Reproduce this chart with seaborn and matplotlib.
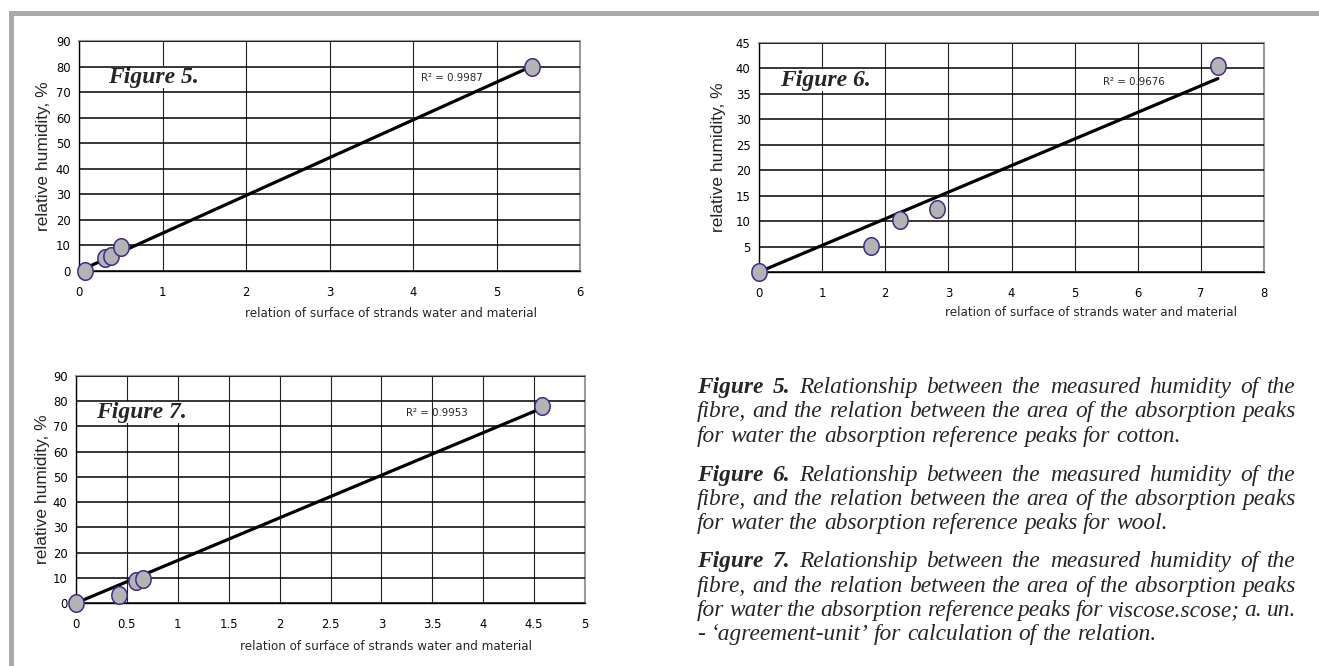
import numpy as np
import pandas as pd
import matplotlib
matplotlib.use("Agg")
import matplotlib.pyplot as plt
import seaborn as sns
from matplotlib import font_manager
from matplotlib.font_manager import FontProperties
from matplotlib.patches import Rectangle
from matplotlib.path import Path

# ---------------- data ----------------
fig5_x = [0.07, 0.31, 0.38, 0.50, 5.43]
fig5_y = [0.0, 5.0, 6.0, 9.5, 80.0]
fig6_x = [0.0, 1.77, 2.23, 2.82, 7.27]
fig6_y = [0.0, 5.2, 10.2, 12.3, 40.4]
fig7_x = [0.0, 0.42, 0.59, 0.66, 4.58]
fig7_y = [0.0, 3.3, 8.9, 9.7, 78.0]

r2_labels = ["R² = 0.9987", "R² = 0.9676", "R² = 0.9953"]
figure_labels = ["Figure 5.", "Figure 6.", "Figure 7."]
x_label = "relation of surface of strands water and material"
y_label = "relative humidity, %"

x_ticks5 = [0, 1, 2, 3, 4, 5, 6]
y_ticks5 = [0, 10, 20, 30, 40, 50, 60, 70, 80, 90]
x_ticks6 = [0, 1, 2, 3, 4, 5, 6, 7, 8]
y_ticks6 = [0, 5, 10, 15, 20, 25, 30, 35, 40, 45]
y_ticklabels6 = ["", "5", "10", "15", "20", "25", "30", "35", "40", "45"]
x_ticks7 = [0, 0.5, 1, 1.5, 2, 2.5, 3, 3.5, 4, 4.5, 5]
x_ticklabels7 = ["0", "0.5", "1", "1.5", "2", "2.5", "3", "3.5", "4", "4.5", "5"]
y_ticks7 = [0, 10, 20, 30, 40, 50, 60, 70, 80, 90]

caption_heads = ["Figure 5.", "Figure 6.", "Figure 7."]
caption_lines = [
    ["Relationship between the measured humidity of the",
     "fibre, and the relation between the area of the absorption peaks",
     "for water the absorption reference peaks for cotton."],
    ["Relationship between the measured humidity of the",
     "fibre, and the relation between the area of the absorption peaks",
     "for water the absorption reference peaks for wool."],
    ["Relationship between the measured humidity of the",
     "fibre, and the relation between the area of the absorption peaks",
     "for water the absorption reference peaks for viscose.scose; a. un.",
     "- \u2018agreement-unit\u2019 for calculation of the relation."],
]

# ---------------- fonts ----------------
sns.set_style("white")
plt.rcParams["font.family"] = ["Liberation Sans", "DejaVu Sans"]


def find_font(keys):
    files = [f.fname for f in font_manager.fontManager.ttflist]
    for k in keys:
        for fn in files:
            if fn.split("/")[-1].lower() == k:
                return fn
    return None


narrow_file = find_font(["liberationsansnarrow-regular.ttf", "liberationsansnarrow.ttf"])
if narrow_file is not None:
    NARROW_FP = FontProperties(fname=narrow_file)
    TICK_FS, XLAB_FS, R2_FS = 10.5, 12.0, 10.0
else:
    cond = find_font(["dejavusanscondensed.ttf", "robotocondensed-regular.ttf"])
    if cond is not None:
        NARROW_FP = FontProperties(fname=cond)
        TICK_FS, XLAB_FS, R2_FS = 9.3, 9.5, 8.2
    else:
        NARROW_FP = FontProperties(family="Liberation Sans")
        TICK_FS, XLAB_FS, R2_FS = 9.2, 9.9, 8.3


def nfp(size):
    fp = NARROW_FP.copy()
    fp.set_size(size)
    return fp


W, H = 1319, 666
fig = plt.figure(figsize=(W / 100, H / 100), dpi=100)
fig.patch.set_facecolor("white")

# frame decoration (grey bars top and left)
fig.add_artist(Rectangle((9 / W, 1 - 16 / H), 1 - 9 / W, 5 / H, transform=fig.transFigure,
                         facecolor="#a9a9a9", edgecolor="none"))
fig.add_artist(Rectangle((9 / W, 0), 5 / W, 1 - 11 / H, transform=fig.transFigure,
                         facecolor="#a9a9a9", edgecolor="none"))

# ellipse marker (slightly taller than wide)
th = np.linspace(0, 2 * np.pi, 60)
ell = Path(np.column_stack([0.87 * np.cos(th), np.sin(th)]), closed=True)


def make_ax(l, r, t, b):
    return fig.add_axes([l / W, 1 - b / H, (r - l) / W, (b - t) / H])


def style_ax(ax, xlim, ylim, xt, yt, xtl=None, ytl=None):
    ax.set_xlim(*xlim)
    ax.set_ylim(*ylim)
    ax.set_xticks(xt)
    ax.set_yticks(yt)
    ax.set_xticklabels(xtl if xtl is not None else [str(v) for v in xt],
                       fontproperties=nfp(TICK_FS))
    ax.set_yticklabels(ytl if ytl is not None else [str(v) for v in yt],
                       fontproperties=nfp(TICK_FS))
    ax.set_facecolor("white")
    ax.grid(False)
    ax.xaxis.grid(True, color="#202020", linewidth=0.8)
    ax.yaxis.grid(True, color="black", linewidth=1.1)
    ax.set_axisbelow(True)
    ax.yaxis.set_zorder(4)
    for s in ["left", "bottom"]:
        ax.spines[s].set_color("black")
        ax.spines[s].set_linewidth(1.0)
    for s in ["top", "right"]:
        ax.spines[s].set_color("#9a9a9a")
        ax.spines[s].set_linewidth(1.5)
    ax.tick_params(axis="both", direction="out", length=3, width=0.8, colors="black")
    ax.tick_params(axis="x", pad=8)
    ax.tick_params(axis="y", pad=3)
    ax.set_xlabel(x_label, fontproperties=nfp(XLAB_FS))
    ax.set_ylabel(y_label, fontsize=12.5, fontfamily="Liberation Sans")


def draw(ax, xs, ys, r2, flab, r2pos, flabpos, xlabpos, ylabx):
    xs = np.asarray(xs)
    ys = np.asarray(ys)
    slope = np.sum(xs * ys) / np.sum(xs * xs)   # trend line through the origin
    lx = np.array([xs.min(), xs.max()])
    sns.lineplot(x=lx, y=slope * lx, ax=ax, color="black", linewidth=2.3, zorder=5)
    sns.scatterplot(x=xs, y=ys, ax=ax, marker=ell, s=160, color="#b3b3b3",
                    edgecolor="#3b2d8c", linewidth=1.1, zorder=6, clip_on=False)
    ax.text(r2pos[0], r2pos[1], r2, transform=ax.transAxes, fontproperties=nfp(R2_FS),
            ha="left", va="center", zorder=3)
    ax.text(flabpos[0], flabpos[1], flab, transform=ax.transAxes, fontsize=17,
            fontfamily="Liberation Serif", fontweight="bold", fontstyle="italic",
            ha="left", va="center", zorder=3,
            bbox=dict(facecolor="white", edgecolor="none", pad=0.5))
    ax.xaxis.set_label_coords(xlabpos[0], xlabpos[1])
    ax.xaxis.label.set_horizontalalignment("center")
    ax.xaxis.label.set_verticalalignment("center")
    ax.yaxis.set_label_coords(ylabx, 0.5)
    ax.yaxis.label.set_verticalalignment("center")


# Figure 5
ax5 = make_ax(79, 580, 41, 271)
style_ax(ax5, (0, 6), (0, 90), x_ticks5, y_ticks5)
draw(ax5, fig5_x, fig5_y, r2_labels[0], figure_labels[0],
     (0.683, 0.839), (0.058, 0.843), (0.622, -0.183), -0.070)

# Figure 6
ax6 = make_ax(759, 1264, 43, 272)
style_ax(ax6, (0, 8), (0, 45), x_ticks6, y_ticks6, ytl=y_ticklabels6)
draw(ax6, fig6_x, fig6_y, r2_labels[1], figure_labels[1],
     (0.681, 0.83), (0.042, 0.838), (0.657, -0.175), -0.081)

# Figure 7
ax7 = make_ax(76, 585, 376, 603)
style_ax(ax7, (0, 5), (0, 90), x_ticks7, y_ticks7, xtl=x_ticklabels7)
draw(ax7, fig7_x, fig7_y, r2_labels[2], figure_labels[2],
     (0.648, 0.837), (0.039, 0.841), (0.609, -0.19), -0.065)

# ---------------- justified caption ----------------
renderer = fig.canvas.get_renderer()
CAP_FS = 16.8
CAP_L, CAP_R = 697, 1296
baselines = [[393, 417, 442], [481, 505, 529], [567, 592, 616, 640]]


def place_line(words, bolds, base, justify):
    texts = []
    for w, b in zip(words, bolds):
        t = fig.text(0, 0, w, fontsize=CAP_FS, fontfamily="Liberation Serif",
                     fontstyle="italic", fontweight="bold" if b else "normal",
                     ha="left", va="baseline")
        texts.append(t)
    widths = [t.get_window_extent(renderer).width for t in texts]
    if justify and len(words) > 1:
        gap = (CAP_R - CAP_L - sum(widths)) / (len(words) - 1)
    else:
        gap = CAP_FS * 0.25 * 100 / 72
    x = CAP_L
    for t, w in zip(texts, widths):
        t.set_position((x / W, 1 - base / H))
        x += w + gap


for head, lines, bases in zip(caption_heads, caption_lines, baselines):
    for i, (line, base) in enumerate(zip(lines, bases)):
        words = line.split(" ")
        bolds = [False] * len(words)
        if i == 0:
            hw = head.split(" ")
            words = hw + words
            bolds = [True] * len(hw) + bolds
        place_line(words, bolds, base, justify=(i < len(lines) - 1))

fig.savefig("out.png", dpi=100, facecolor="white")
